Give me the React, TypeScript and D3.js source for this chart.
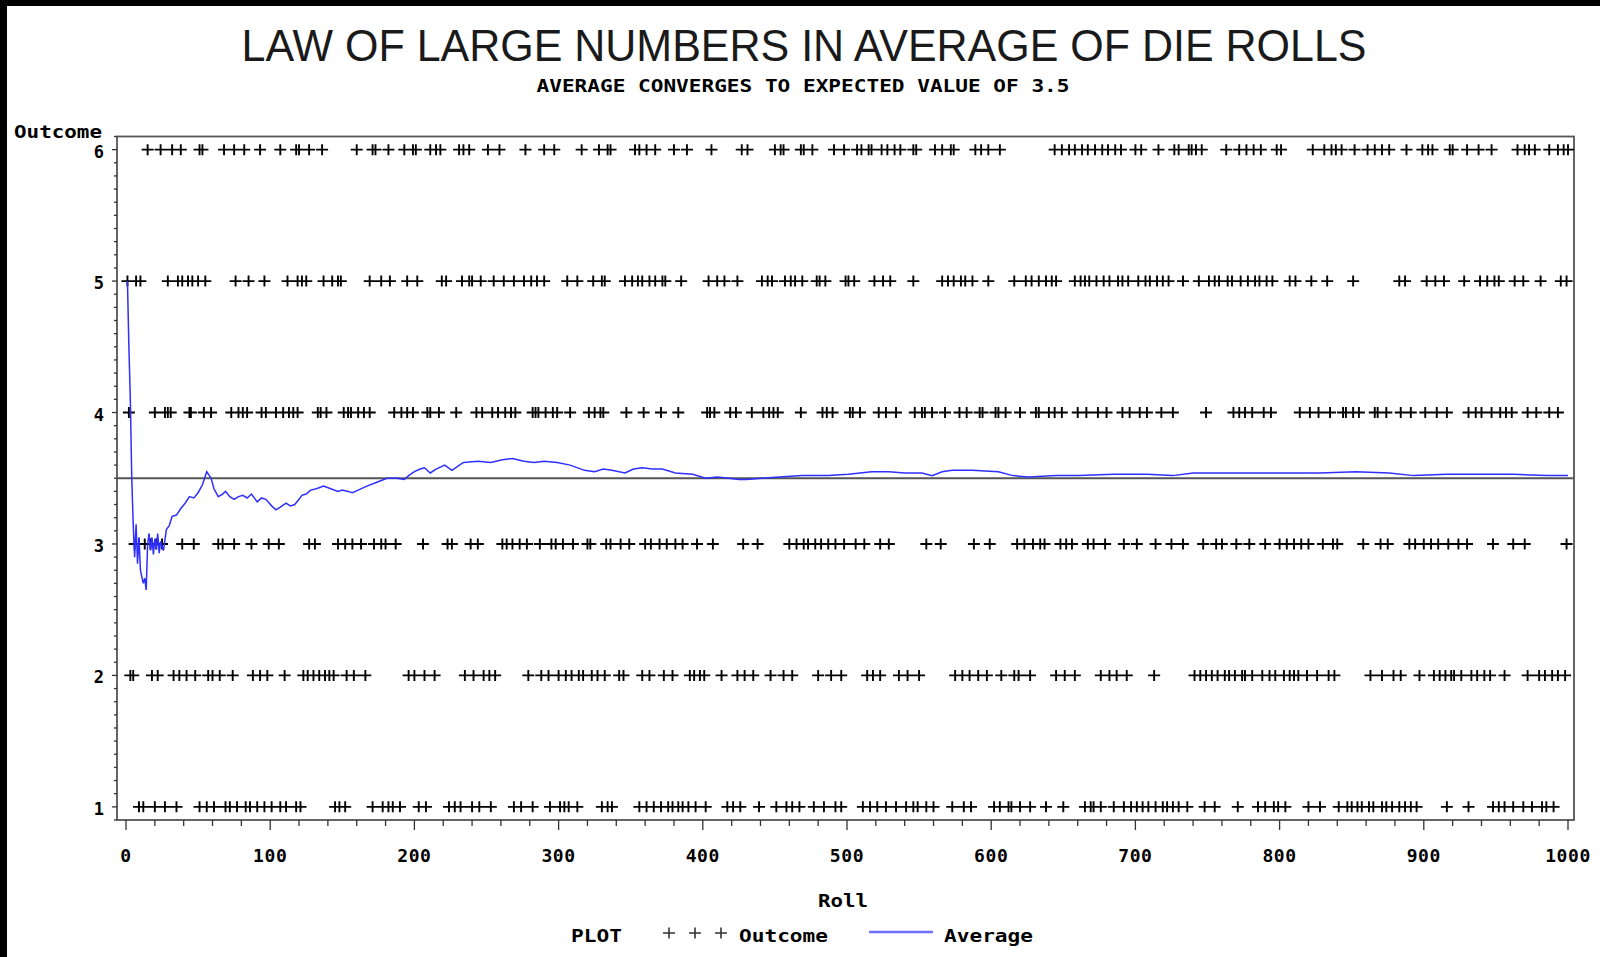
import * as d3 from "d3";

const outcomeLevels = [1, 2, 3, 4, 5, 6];
const xTickValues = [0, 100, 200, 300, 400, 500, 600, 700, 800, 900, 1000];

// roll numbers where a "+" was drawn on each outcome row
const rollsOutcome6 = [
  15, 24, 32, 38, 51, 53, 68, 75, 82, 93, 107, 118, 120, 127, 136, 160, 171, 173, 182, 193, 199, 201, 211,
  215, 218, 231, 234, 238, 251, 259, 277, 290, 297, 316, 328, 334, 336, 353, 356, 361, 367, 380, 389, 406,
  427, 431, 450, 454, 456, 468, 470, 476, 491, 498, 507, 510, 515, 517, 524, 528, 533, 537, 546, 548, 561,
  566, 572, 574, 589, 593, 598, 606, 644, 649, 654, 658, 663, 667, 672, 677, 681, 686, 690, 700, 704, 716,
  727, 730, 737, 739, 742, 746, 763, 772, 777, 782, 787, 798, 801, 823, 831, 836, 839, 843, 852, 861, 866,
  871, 876, 888, 899, 903, 906, 918, 920, 930, 938, 947, 965, 970, 973, 977, 987, 993, 997, 1000,
];
const rollsOutcome5 = [
  1, 7, 10, 29, 36, 39, 43, 46, 50, 55, 76, 85, 96, 112, 119, 122, 125, 137, 143, 147, 149, 169, 177, 183,
  195, 202, 219, 222, 233, 238, 240, 246, 255, 262, 269, 276, 281, 285, 290, 306, 313, 324, 330, 332, 346,
  351, 355, 358, 363, 367, 372, 374, 385, 404, 410, 415, 424, 441, 445, 448, 457, 461, 464, 469, 479, 481,
  485, 499, 501, 505, 519, 525, 530, 546, 566, 570, 574, 579, 582, 587, 598, 616, 624, 628, 633, 638, 642,
  645, 658, 662, 665, 668, 673, 678, 682, 688, 691, 695, 702, 707, 710, 715, 719, 723, 733, 744, 751, 755,
  758, 764, 767, 773, 778, 783, 786, 791, 795, 807, 811, 822, 833, 851, 883, 887, 902, 908, 914, 928, 939,
  944, 949, 952, 963, 969, 981, 995, 999,
];
const rollsOutcome4 = [
  2, 20, 27, 29, 31, 44, 45, 54, 59, 73, 78, 81, 84, 94, 97, 104, 109, 113, 116, 119, 133, 135, 139, 151,
  154, 156, 161, 165, 169, 186, 191, 195, 199, 209, 211, 217, 229, 243, 247, 254, 258, 263, 267, 270, 282,
  284, 286, 291, 296, 299, 308, 321, 325, 329, 331, 347, 359, 371, 383, 403, 405, 408, 419, 423, 434, 442,
  446, 449, 452, 468, 483, 486, 490, 502, 504, 509, 522, 527, 534, 547, 552, 554, 559, 568, 578, 583, 592,
  594, 603, 605, 610, 620, 631, 633, 640, 644, 649, 660, 666, 674, 680, 691, 696, 703, 708, 718, 726, 749,
  768, 772, 776, 781, 789, 794, 814, 821, 827, 835, 844, 846, 851, 855, 866, 868, 874, 884, 891, 901, 909,
  916, 931, 936, 940, 947, 953, 957, 961, 972, 978, 987, 993,
];
const rollsOutcome3 = [
  6, 9, 13, 17, 21, 25, 39, 47, 64, 67, 75, 87, 99, 106, 127, 131, 147, 152, 157, 163, 172, 177, 180, 187,
  206, 223, 226, 239, 244, 261, 264, 268, 273, 278, 287, 295, 298, 303, 310, 320, 322, 333, 336, 343, 349,
  360, 364, 370, 375, 381, 386, 396, 407, 428, 438, 460, 465, 470, 473, 478, 482, 487, 492, 498, 506, 512,
  523, 529, 555, 565, 588, 599, 618, 623, 629, 634, 637, 648, 652, 656, 667, 671, 679, 692, 701, 714, 725,
  733, 747, 756, 760, 770, 779, 790, 800, 805, 810, 815, 820, 830, 837, 840, 858, 870, 875, 890, 894, 900,
  905, 910, 917, 924, 930, 948, 962, 970, 999,
];
const rollsOutcome2 = [
  3, 5, 18, 22, 33, 37, 42, 48, 57, 60, 65, 74, 88, 93, 98, 110, 123, 126, 130, 134, 138, 141, 144, 153,
  158, 166, 196, 200, 207, 214, 235, 241, 248, 252, 256, 279, 288, 293, 300, 305, 309, 314, 317, 323, 327,
  332, 342, 345, 358, 363, 373, 379, 391, 394, 398, 401, 413, 424, 429, 435, 447, 456, 462, 480, 489, 496,
  514, 518, 523, 536, 542, 550, 575, 580, 585, 591, 597, 607, 616, 619, 627, 645, 651, 658, 676, 682, 687,
  694, 713, 741, 745, 749, 753, 757, 762, 765, 769, 774, 776, 781, 788, 793, 797, 803, 807, 810, 813, 819,
  826, 834, 838, 863, 871, 879, 884, 897, 907, 911, 915, 919, 921, 926, 933, 937, 942, 946, 956, 972, 980,
  984, 989, 993, 998,
];
const rollsOutcome1 = [
  9, 12, 20, 27, 35, 51, 56, 61, 69, 72, 77, 83, 86, 91, 96, 101, 107, 111, 118, 121, 145, 148, 152, 171,
  178, 182, 185, 190, 203, 208, 224, 228, 232, 240, 245, 253, 269, 274, 282, 294, 301, 304, 307, 313, 330,
  334, 337, 356, 361, 366, 371, 376, 379, 383, 386, 390, 395, 402, 417, 421, 426, 439, 451, 458, 462, 467,
  477, 484, 492, 496, 511, 516, 521, 527, 534, 541, 546, 549, 555, 560, 573, 581, 586, 602, 606, 612, 614,
  620, 627, 638, 650, 665, 669, 671, 676, 685, 692, 697, 701, 705, 709, 714, 719, 722, 726, 730, 736, 748,
  755, 771, 785, 790, 796, 799, 804, 820, 828, 841, 847, 850, 854, 857, 862, 865, 871, 874, 878, 883, 887,
  891, 895, 916, 931, 948, 952, 956, 962, 969, 975, 982, 985, 990,
];

// running average of the outcome
const averageRoll = [
  1, 2, 3, 4, 5, 6, 7, 8, 9, 10, 11, 12, 13, 14, 15, 16, 17, 18, 19, 20, 21, 22, 23, 24, 25, 26, 28, 30, 32,
  35, 38, 41, 44, 47, 50, 53, 56, 59, 61, 64, 67, 69, 72, 75, 78, 81, 84, 87, 91, 94, 97, 101, 104, 107, 111,
  114, 117, 120, 122, 125, 128, 132, 137, 142, 147, 150, 154, 157, 161, 167, 174, 181, 188, 193, 196, 200,
  204, 207, 211, 215, 221, 226, 230, 234, 244, 253, 261, 268, 276, 283, 290, 299, 308, 318, 325, 331, 337,
  346, 352, 358, 365, 372, 381, 393, 402, 410, 418, 425, 430, 441, 453, 469, 487, 501, 517, 529, 540, 552,
  559, 566, 573, 587, 605, 615, 626, 645, 661, 685, 708, 726, 740, 765, 784, 812, 828, 853, 876, 893, 916,
  939, 962, 985, 1000,
];
const averageValue = [
  5.0, 4.5, 4.1, 3.5, 3.15, 2.9, 3.15, 2.85, 3.05, 2.8, 2.75, 2.7, 2.74, 2.65, 3.0, 3.08, 2.95, 3.05, 2.92,
  3.04, 2.96, 3.08, 2.93, 3.02, 2.98, 2.95, 3.11, 3.14, 3.21, 3.22, 3.27, 3.31, 3.36, 3.35, 3.39, 3.45, 3.55,
  3.5, 3.42, 3.36, 3.38, 3.4, 3.36, 3.34, 3.36, 3.37, 3.35, 3.38, 3.32, 3.35, 3.34, 3.29, 3.26, 3.28, 3.31,
  3.29, 3.3, 3.34, 3.37, 3.38, 3.41, 3.42, 3.44, 3.42, 3.4, 3.41, 3.4, 3.39, 3.41, 3.44, 3.47, 3.5, 3.5, 3.49,
  3.52, 3.55, 3.57, 3.58, 3.54, 3.57, 3.6, 3.56, 3.59, 3.62, 3.63, 3.62, 3.64, 3.65, 3.63, 3.62, 3.63, 3.62,
  3.6, 3.56, 3.55, 3.57, 3.56, 3.54, 3.57, 3.58, 3.57, 3.57, 3.54, 3.53, 3.5, 3.51, 3.5, 3.49, 3.49, 3.5,
  3.51, 3.52, 3.52, 3.53, 3.55, 3.55, 3.54, 3.54, 3.52, 3.55, 3.56, 3.56, 3.55, 3.52, 3.51, 3.52, 3.52, 3.53,
  3.53, 3.52, 3.54, 3.54, 3.54, 3.54, 3.54, 3.55, 3.54, 3.52, 3.53, 3.53, 3.53, 3.52, 3.52,
];
const expectedValue = 3.5;

const rowsByOutcome = [
  rollsOutcome1,
  rollsOutcome2,
  rollsOutcome3,
  rollsOutcome4,
  rollsOutcome5,
  rollsOutcome6,
];

const width = 1600;
const height = 957;
const frame = { left: 117, right: 1574, top: 136.5, bottom: 820 };
const mono = "'DejaVu Sans Mono', 'Liberation Mono', monospace";

const xScale = d3.scaleLinear().domain([0, 1000]).range([126, 1568]);
const yScale = d3.scaleLinear().domain([0.9, 6.1]).range([frame.bottom, frame.top]);

const plusPath = (cx, cy, hw = 6, hh = 5.5) =>
  `M${cx - hw},${cy}h${hw * 2}M${cx},${cy - hh}v${hh * 2}`;

const App = () => {
  const averageLine = d3
    .line()
    .x((d) => xScale(d[0]))
    .y((d) => yScale(d[1]))(averageRoll.map((r, i) => [r, averageValue[i]]));

  const yMinor = d3.range(9, 62).map((v) => v / 10);
  const xMinor = d3.range(0, 1001, 20);

  return (
    <svg
      width={width}
      height={height}
      style={{ position: "absolute", left: 0, top: 0, display: "block" }}
    >
      <rect width={width} height={height} fill="#000" />
      <rect x={7} y={6} width={width - 7} height={height - 6} fill="#fff" />

      <text
        x={804}
        y={60.5}
        textAnchor="middle"
        fontFamily="'Liberation Sans', Arial, sans-serif"
        fontSize={45}
        textLength={1125}
        lengthAdjust="spacingAndGlyphs"
        fill="#1a1a1a"
      >
        LAW OF LARGE NUMBERS IN AVERAGE OF DIE ROLLS
      </text>
      <text
        x={803}
        y={92}
        textAnchor="middle"
        fontFamily={mono}
        fontWeight="bold"
        fontSize={17}
        textLength={533}
        lengthAdjust="spacingAndGlyphs"
      >
        AVERAGE CONVERGES TO EXPECTED VALUE OF 3.5
      </text>

      <text
        x={14}
        y={137.5}
        fontFamily={mono}
        fontWeight="bold"
        fontSize={17}
        textLength={88}
        lengthAdjust="spacingAndGlyphs"
      >
        Outcome
      </text>

      <rect
        x={frame.left}
        y={frame.top}
        width={frame.right - frame.left}
        height={frame.bottom - frame.top}
        fill="none"
        stroke="#555"
        strokeWidth={1.8}
      />

      {yMinor.map((v, i) => {
        const major = outcomeLevels.includes(v);
        return (
          <line
            key={i}
            x1={frame.left - (major ? 5 : 3)}
            x2={frame.left}
            y1={yScale(v)}
            y2={yScale(v)}
            stroke="#333"
            strokeWidth={1.3}
          />
        );
      })}
      {outcomeLevels.map((v) => (
        <text
          key={v}
          x={104}
          y={yScale(v) + 8}
          textAnchor="end"
          fontFamily={mono}
          fontWeight="bold"
          fontSize={17}
        >
          {v}
        </text>
      ))}

      {xMinor.map((v) => {
        const major = v % 100 === 0;
        return (
          <line
            key={v}
            x1={xScale(v)}
            x2={xScale(v)}
            y1={frame.bottom}
            y2={frame.bottom + (major ? 10 : 6)}
            stroke="#333"
            strokeWidth={1.3}
          />
        );
      })}
      {xTickValues.map((v) => (
        <text
          key={v}
          x={xScale(v)}
          y={861.5}
          textAnchor="middle"
          fontFamily={mono}
          fontWeight="bold"
          fontSize={18}
          letterSpacing={0.6}
        >
          {v}
        </text>
      ))}
      <text
        x={843}
        y={906.5}
        textAnchor="middle"
        fontFamily={mono}
        fontWeight="bold"
        fontSize={18}
        textLength={50}
        lengthAdjust="spacingAndGlyphs"
      >
        Roll
      </text>

      <line
        x1={frame.left}
        x2={frame.right}
        y1={yScale(expectedValue)}
        y2={yScale(expectedValue)}
        stroke="#555"
        strokeWidth={1.8}
      />

      {rowsByOutcome.map((rolls, i) => (
        <path
          key={i}
          d={rolls.map((r) => plusPath(xScale(r), yScale(outcomeLevels[i]))).join("")}
          fill="none"
          stroke="#000"
          strokeWidth={1.9}
        />
      ))}

      <path d={averageLine} fill="none" stroke="#2f2fff" strokeWidth={1.5} />

      <g fontFamily={mono} fontWeight="bold" fontSize={18}>
        <text x={571} y={941.5} textLength={51} lengthAdjust="spacingAndGlyphs">
          PLOT
        </text>
        <path
          d={[669, 695, 721].map((cx) => plusPath(cx, 933)).join("")}
          fill="none"
          stroke="#333"
          strokeWidth={1.6}
        />
        <text x={739} y={941.5} textLength={89} lengthAdjust="spacingAndGlyphs">
          Outcome
        </text>
        <line x1={869} x2={933} y1={932} y2={932} stroke="#6f6fff" strokeWidth={2.5} />
        <text x={944} y={941.5} textLength={89} lengthAdjust="spacingAndGlyphs">
          Average
        </text>
      </g>
    </svg>
  );
};

export default App;
